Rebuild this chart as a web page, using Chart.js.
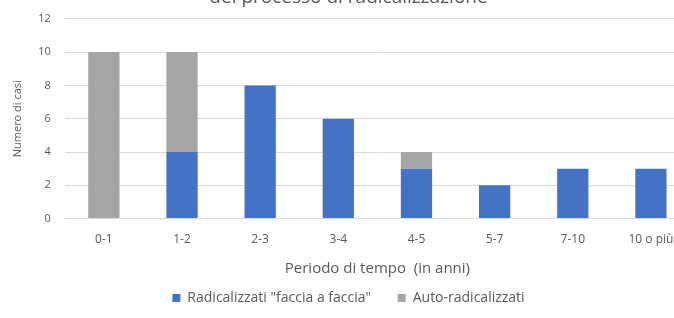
<!DOCTYPE html>
<html>
<head>
<meta charset="utf-8">
<script src="https://cdn.jsdelivr.net/npm/chart.js@4/dist/chart.umd.min.js"></script>
<style>
  html, body { margin: 0; padding: 0; background: #fff; overflow: hidden; width: 674px; height: 318px; }
  #wrap { position: absolute; left: 0; top: -20px; width: 690px; height: 340px; }
</style>
</head>
<body>
<div id="wrap"><canvas id="mainChart" width="690" height="340"></canvas></div>
<script>
const periodi = ['0-1', '1-2', '2-3', '3-4', '4-5', '5-7', '7-10', '10 o più'];
const facciaAFaccia = [0, 4, 8, 6, 3, 2, 3, 3];
const autoRadicalizzati = [10, 6, 0, 0, 1, 0, 0, 0];
const yTicks = [0, 2, 4, 6, 8, 10, 12];

const grey = '#595959';
const fontName = '"Open Sans", sans-serif';

var ctx = document.getElementById('mainChart').getContext('2d');
var mainChart = new Chart(ctx, {
    type: 'bar',
    data: {
        labels: periodi,
        datasets: [{
            label: 'Radicalizzati "faccia a faccia"',
            data: facciaAFaccia,
            backgroundColor: '#4472C4',
            categoryPercentage: 1,
            barPercentage: 0.4
        }, {
            label: 'Auto-radicalizzati',
            data: autoRadicalizzati,
            backgroundColor: '#A5A5A5',
            categoryPercentage: 1,
            barPercentage: 0.4
        }]
    },
    options: {
        responsive: false,
        animation: false,
        layout: { padding: { left: 7, right: 0, top: 0, bottom: 5 } },
        plugins: {
            title: {
                display: true,
                text: 'del processo di radicalizzazione',
                color: grey,
                font: { family: fontName, size: 19, weight: 'normal' },
                padding: { top: 6, bottom: 10 }
            },
            legend: {
                position: 'bottom',
                labels: {
                    color: grey,
                    font: { family: fontName, size: 14 },
                    boxWidth: 8,
                    boxHeight: 8,
                    padding: 12,
                    generateLabels: function(chart) {
                        const items = Chart.defaults.plugins.legend.labels.generateLabels(chart);
                        // a bit more room between the two entries
                        items[0].text = items[0].text + '    ';
                        return items;
                    }
                }
            },
            tooltip: { enabled: false }
        },
        scales: {
            x: {
                stacked: true,
                grid: { display: false },
                border: { display: false },
                ticks: { color: grey, font: { family: fontName, size: 12 }, padding: 6 },
                title: {
                    display: true,
                    text: 'Periodo di tempo  (in anni)',
                    color: grey,
                    font: { family: fontName, size: 15 },
                    padding: { top: 7, bottom: 1 }
                }
            },
            y: {
                stacked: true,
                min: 0,
                max: 12,
                afterBuildTicks: function(axis) {
                    axis.ticks = yTicks.map(v => ({ value: v }));
                },
                grid: { color: '#d9d9d9', drawTicks: false },
                border: { display: false },
                ticks: { color: grey, font: { family: fontName, size: 11 }, padding: 14 },
                title: {
                    display: true,
                    text: 'Numero di casi',
                    color: grey,
                    font: { family: fontName, size: 11 },
                    padding: { bottom: 0 }
                }
            }
        }
    }
});
</script>
</body>
</html>
